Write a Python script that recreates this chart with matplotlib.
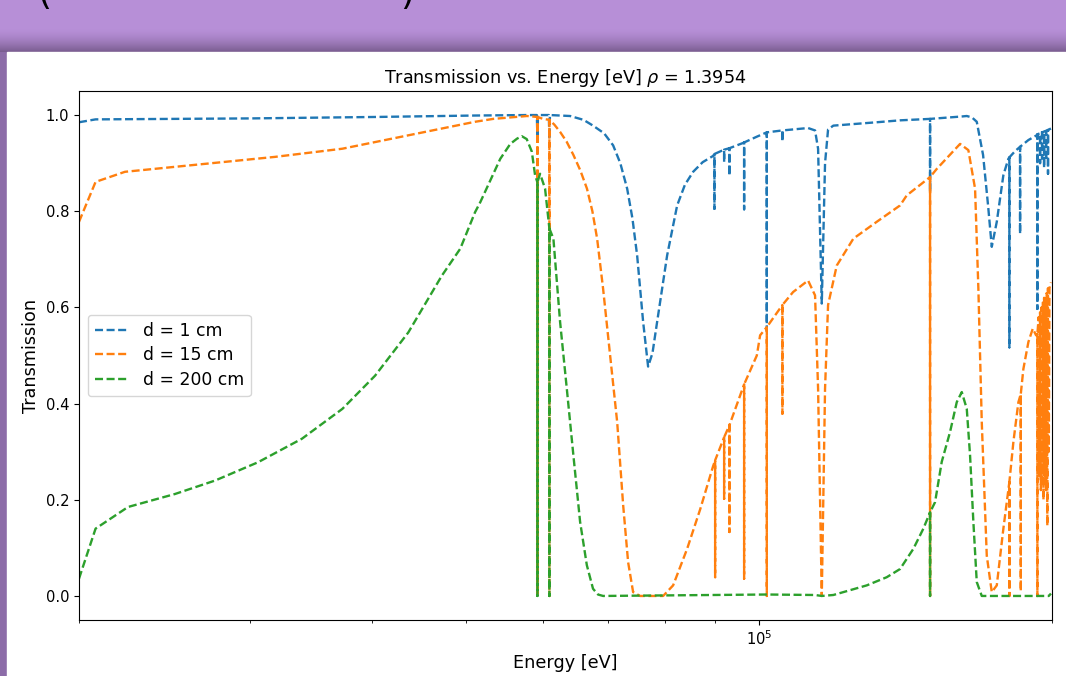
import numpy as np
import matplotlib
matplotlib.use("Agg")
import matplotlib.pyplot as plt
from matplotlib.patches import Rectangle
from matplotlib.ticker import NullFormatter

plt.rcParams['font.size'] = 10.6

# energy [eV] and transmission
e_1cm = [20000, 20800, 30000, 40300, 51060, 57750,
         59100, 59180, 59180, 59260, 60800, 60880, 60880, 60960,
         63940, 66000, 67500, 69300, 70790, 72000, 73180, 74100, 74930,
         76000, 76900, 77700, 78560, 80440,
         82370, 83900, 85550, 87500, 89690,
         89970, 89970, 89970, 92060, 92060, 92060, 93220, 93220, 93220,
         96290, 96520, 96520, 96520, 99460,
         101840, 101840, 101840, 105670, 105670, 105670,
         112290, 114160, 114980, 115990, 116890, 117730, 119210,
         132100, 139590, 149870, 149870, 149870,
         161550, 163470, 165500, 167380, 169900, 171920, 173430, 175500,
         178260, 180380, 180810, 180810, 180810, 183270,
         185450, 185450, 185450, 189130, 192920,
         193200, 193200, 193200, 194440, 194440, 194440,
         195360, 195360, 195360, 196290, 196290, 196290,
         197220, 197220, 197220, 198120, 198120, 198120, 199500]
t_1cm = [0.985, 0.991, 0.993, 0.996, 0.999, 1.000,
         1.000, 0.950, 0.950, 1.000, 1.000, 0.950, 0.950, 1.000,
         0.998, 0.990, 0.978, 0.962, 0.937, 0.900, 0.847, 0.785, 0.708,
         0.570, 0.477, 0.505, 0.570, 0.708,
         0.812, 0.855, 0.882, 0.902, 0.915,
         0.919, 0.805, 0.919, 0.928, 0.902, 0.928, 0.931, 0.874, 0.931,
         0.942, 0.943, 0.804, 0.943, 0.955,
         0.964, 0.553, 0.964, 0.968, 0.945, 0.968,
         0.973, 0.968, 0.930, 0.608, 0.900, 0.970, 0.978,
         0.985, 0.989, 0.992, 0.840, 0.992,
         0.997, 0.998, 0.995, 0.986, 0.917, 0.812, 0.726, 0.778,
         0.875, 0.909, 0.912, 0.517, 0.912, 0.925,
         0.934, 0.753, 0.934, 0.948, 0.958,
         0.960, 0.597, 0.960, 0.962, 0.900, 0.962,
         0.964, 0.910, 0.964, 0.966, 0.890, 0.966,
         0.967, 0.905, 0.967, 0.969, 0.878, 0.969, 0.972]

e_15cm = [20000, 20800, 22300, 27100, 31800, 37300, 41960, 47200, 51060,
          53300, 57750, 59180, 59180, 59180, 59980, 60880, 60880, 60880,
          61600, 62440, 63400, 64440, 65500, 66540, 67400, 68160, 69130,
          70290, 71470, 72490, 73350, 74220, 75460, 79690, 81590, 84340,
          86980, 89690,
          90120, 90120, 90120, 92060, 92060, 92060, 93220, 93220, 93220,
          96520, 96520, 96520, 99460, 100240,
          101840, 101840, 101840, 105670, 105670, 105670,
          108380, 112290, 114160, 114980, 115990, 116890, 117730, 120170,
          124990, 132100, 139590, 141830, 149870, 149870, 149870,
          152260, 160900, 164090, 166710, 168020, 169370, 171390, 173430,
          175500, 178260, 180810, 180810, 180810, 182530, 184710,
          185760, 185760, 185760, 186900, 189130, 191110, 192600,
          193200, 193200, 193200,
          193800, 194100, 194440, 194800, 195100, 195400, 195700, 196000,
          196300, 196600, 196900, 197200, 197500, 197800, 198100, 198500,
          198800, 199500]
t_15cm = [0.778, 0.861, 0.882, 0.899, 0.913, 0.930, 0.951, 0.972, 0.986,
          0.992, 0.998, 0.996, 0.0, 0.996, 0.992, 0.990, 0.0, 0.990,
          0.980, 0.965, 0.945, 0.917, 0.885, 0.847, 0.800, 0.743, 0.639,
          0.500, 0.362, 0.189, 0.070, 0.008, 0.0, 0.0, 0.022, 0.098,
          0.180, 0.270,
          0.282, 0.039, 0.282, 0.330, 0.202, 0.330, 0.355, 0.133, 0.355,
          0.440, 0.036, 0.440, 0.500, 0.542,
          0.559, 0.0, 0.559, 0.605, 0.379, 0.605,
          0.632, 0.656, 0.625, 0.431, 0.0, 0.431, 0.605, 0.687,
          0.743, 0.778, 0.812, 0.833, 0.871, 0.0, 0.871,
          0.888, 0.940, 0.927, 0.847, 0.639, 0.362, 0.084, 0.008,
          0.022, 0.140, 0.237, 0.0, 0.237, 0.320, 0.403,
          0.420, 0.010, 0.420, 0.472, 0.528, 0.556, 0.542,
          0.545, 0.0, 0.545,
          0.580, 0.250, 0.590, 0.220, 0.600, 0.240, 0.610, 0.200,
          0.620, 0.250, 0.620, 0.220, 0.630, 0.146, 0.640, 0.300,
          0.640, 0.652]

e_200cm = [20000, 20800, 22460, 25100, 27600, 30550, 33900, 37300, 40300,
           43600, 47200, 49300, 51060, 51700, 54200, 55500, 56400, 57030,
           57700, 58400, 58850, 59180, 59180, 59180, 59550, 60260,
           60880, 60880, 60880, 61460, 62440, 63440, 64440, 65470, 66520,
           67500, 68300, 69130,
           101840, 114160, 115990, 119210, 129020, 135270, 139590, 144060,
           147510, 149870, 149870, 149870, 151650, 154070, 157130, 159640,
           161550, 163470, 164750, 166040, 167380, 169370, 198500, 199500]
t_200cm = [0.036, 0.140, 0.185, 0.212, 0.240, 0.278, 0.327, 0.389, 0.458,
           0.548, 0.666, 0.722, 0.798, 0.819, 0.909, 0.940, 0.951, 0.956,
           0.950, 0.924, 0.875, 0.860, 0.0, 0.860, 0.878, 0.847,
           0.764, 0.0, 0.764, 0.743, 0.570, 0.431, 0.292, 0.154, 0.064,
           0.015, 0.003, 0.0,
           0.003, 0.002, 0.0, 0.002, 0.022, 0.039, 0.056, 0.098,
           0.140, 0.174, 0.0, 0.174, 0.195, 0.279, 0.341, 0.403,
           0.424, 0.389, 0.292, 0.154, 0.029, 0.0, 0.0, 0.005]

labels = ['d = 1 cm', 'd = 15 cm', 'd = 200 cm']

W, H = 1066, 676
fig = plt.figure(figsize=(W / 100, H / 100), dpi=100)

# slide background behind the chart
bg = fig.add_axes([0, 0, 1, 1])
bg.axis('off')
img = np.ones((H, W, 3)) * np.array([183, 143, 215]) / 255
rows = np.arange(H)
shade = np.clip((rows - 28) / 24, 0, 1) ** 1.6
dark = np.array([118, 90, 140]) / 255
for r in range(28, 53):
    img[r] = img[r] * (1 - shade[r]) + dark * shade[r]
img[52:, :7] = np.array([140, 108, 168]) / 255
bg.imshow(img, extent=[0, W, H, 0], aspect='auto')
bg.add_patch(Rectangle((7, 52), W - 7, H - 52, color='white'))
bg.set_xlim(0, W)
bg.set_ylim(H, 0)
# bottoms of the slide heading's brackets, cut by the top edge
fig.text(38 / W, 1 - 4 / H, '(', fontsize=26, va='baseline')
fig.text(400 / W, 1 - 4 / H, ')', fontsize=26, va='baseline')

ax = fig.add_axes([79 / W, (H - 620) / H, (1052 - 79) / W, (620 - 91) / H])
lw = 1.7
dash = (3.4, 1.5)
ax.plot(e_1cm, t_1cm, '--', lw=lw, dashes=dash, label=labels[0])
ax.plot(e_15cm, t_15cm, '--', lw=lw, dashes=dash, label=labels[1])
ax.plot(e_200cm, t_200cm, '--', lw=lw, dashes=dash, label=labels[2])
ax.set_xscale('log')
ax.set_xlim(2e4, 2e5)
ax.xaxis.set_minor_formatter(NullFormatter())
ax.set_title(r'Transmission vs. Energy [eV] $\rho$ = 1.3954', fontsize=12.7)
ax.set_xlabel('Energy [eV]', fontsize=12.7)
ax.set_ylabel('Transmission', fontsize=12.7)
ax.legend(loc='center left', fontsize=12.4, labelspacing=0.4)

fig.savefig('out.png', dpi=100)
